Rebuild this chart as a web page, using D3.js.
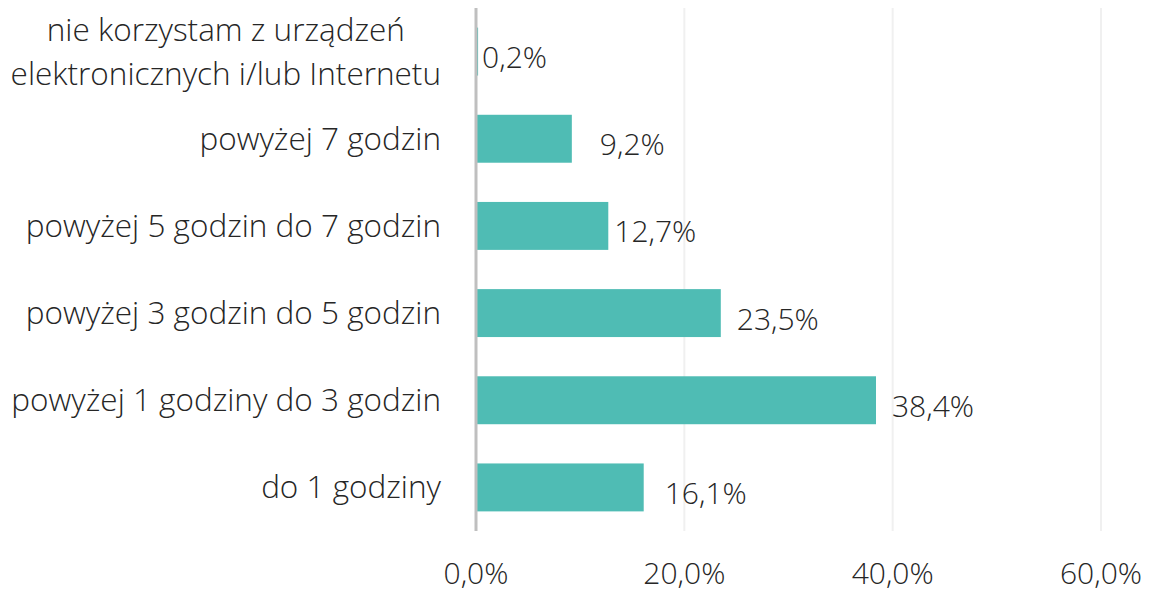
<!DOCTYPE html>
<html>
<head>
<meta charset="utf-8">
<script src="https://cdn.jsdelivr.net/npm/d3@7"></script>
<style>
  body { margin: 0; background: #fff; }
  svg text { font-family: "Open Sans", "Segoe UI", sans-serif; font-weight: 300; fill: #262626; }
</style>
</head>
<body>
<div id="chart"></div>
<script>
// chart data
var categories = [
  ["nie korzystam z urządzeń", "elektronicznych i/lub Internetu"],
  ["powyżej 7 godzin"],
  ["powyżej 5 godzin do 7 godzin"],
  ["powyżej 3 godzin do 5 godzin"],
  ["powyżej 1 godziny do 3 godzin"],
  ["do 1 godziny"]
];
var values = [0.2, 9.2, 12.7, 23.5, 38.4, 16.1];
var ticks = [0, 20, 40, 60];

// small nudges for the value labels (as placed in the original)
var labelDx = [4, 28, 6, 16, 16, 21];

var svgWidth = 1149;
var svgHeight = 592;
var margin = { top: 8, right: 48, bottom: 61, left: 476 };
var chartWidth = svgWidth - margin.left - margin.right;
var chartHeight = svgHeight - margin.top - margin.bottom;

var svg = d3.select("#chart")
  .append("svg")
  .attr("width", svgWidth)
  .attr("height", svgHeight);

var g = svg.append("g")
  .attr("transform", `translate(${margin.left}, ${margin.top})`);

var xScale = d3.scaleLinear()
  .domain([0, 60])
  .range([0, 625]);

var yScale = d3.scaleBand()
  .domain(d3.range(values.length))
  .range([0, chartHeight])
  .paddingInner(0.45)
  .paddingOuter(0.225);

var fmt = d => d.toFixed(1).replace(".", ",") + "%";

// gridlines
g.append("g").selectAll("line")
  .data(ticks.slice(1))
  .enter()
  .append("line")
  .attr("x1", d => xScale(d))
  .attr("x2", d => xScale(d))
  .attr("y1", 0)
  .attr("y2", chartHeight)
  .attr("stroke", "#f0f0f0")
  .attr("stroke-width", 2);

// bars
g.append("g").selectAll("rect")
  .data(values)
  .enter()
  .append("rect")
  .attr("x", 0)
  .attr("y", (d, i) => yScale(i))
  .attr("width", d => xScale(d))
  .attr("height", yScale.bandwidth())
  .attr("fill", "#4fbcb4");

// vertical axis line
g.append("line")
  .attr("x1", 0).attr("x2", 0)
  .attr("y1", 0).attr("y2", chartHeight)
  .attr("stroke", "#bfbfbf")
  .attr("stroke-width", 3);

// value labels
g.append("g").selectAll("text")
  .data(values)
  .enter()
  .append("text")
  .attr("x", (d, i) => xScale(d) + labelDx[i])
  .attr("y", (d, i) => yScale(i) + yScale.bandwidth() / 2 + 6)
  .attr("dy", "0.35em")
  .attr("font-size", 30)
  .text(d => fmt(d));

// category labels (multi-line ones are centred on their longest line)
var labelRight = -35;
var catText = g.append("g").selectAll("text")
  .data(categories)
  .enter()
  .append("text")
  .attr("y", (d, i) => yScale(i) + yScale.bandwidth() / 2)
  .attr("font-size", 31.5);

catText.each(function(lines) {
  var t = d3.select(this);
  var spans = lines.map(function(line, k) {
    return t.append("tspan")
      .attr("dy", k === 0 ? (0.35 - (lines.length - 1) * 0.7) + "em" : "1.4em")
      .text(line);
  });
  if (lines.length === 1) {
    t.attr("text-anchor", "end");
    spans[0].attr("x", labelRight);
  } else {
    var maxW = d3.max(spans, s => s.node().getComputedTextLength());
    t.attr("text-anchor", "middle");
    spans.forEach(s => s.attr("x", labelRight - maxW / 2));
  }
});

// x tick labels
g.append("g").selectAll("text")
  .data(ticks)
  .enter()
  .append("text")
  .attr("x", d => xScale(d))
  .attr("y", chartHeight + 42)
  .attr("dy", "0.35em")
  .attr("text-anchor", "middle")
  .attr("font-size", 30)
  .text(d => fmt(d));
</script>
</body>
</html>
